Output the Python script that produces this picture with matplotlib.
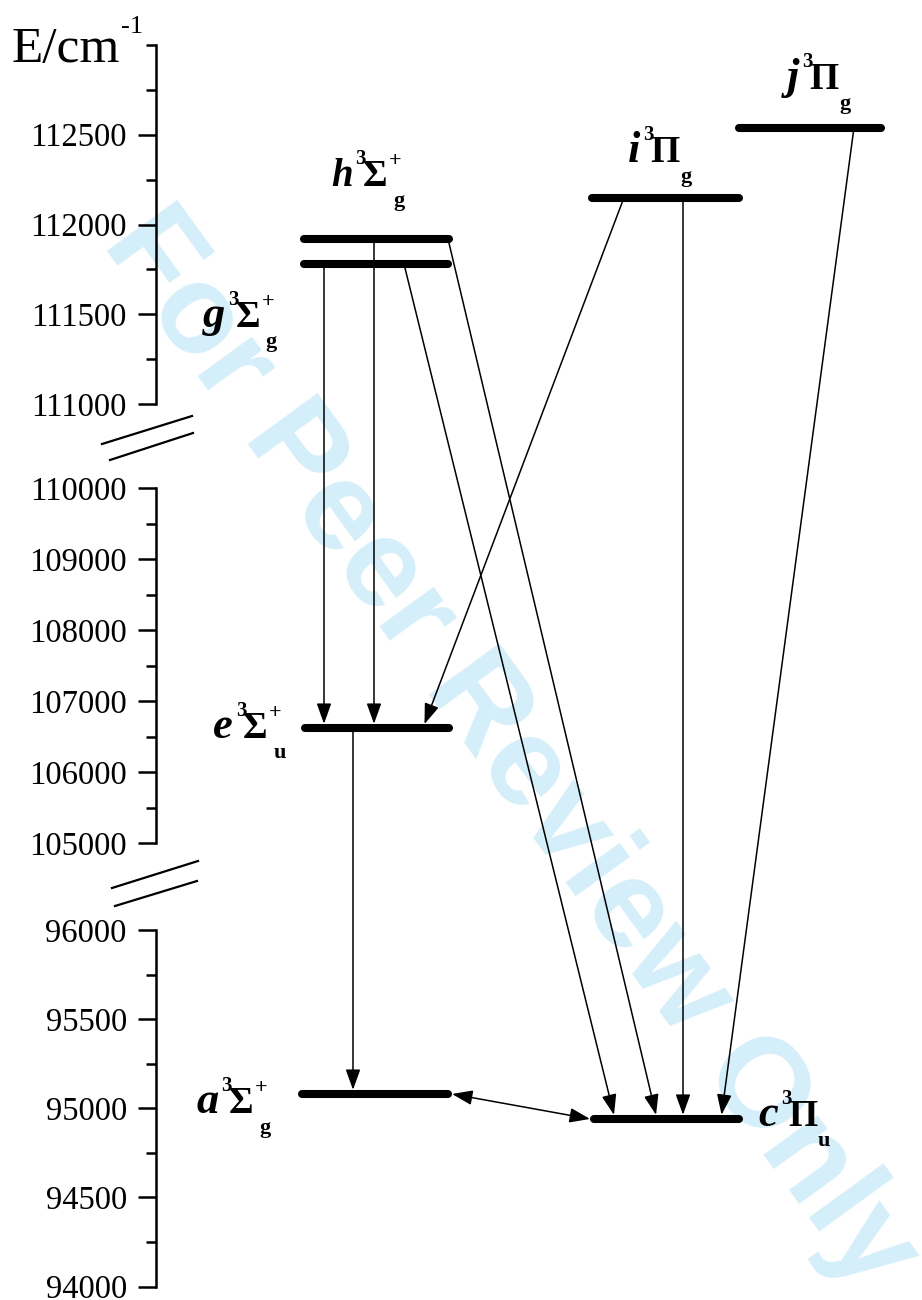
import numpy as np
import matplotlib
matplotlib.use('Agg')
import matplotlib.pyplot as plt
from matplotlib.ticker import FixedLocator, FixedFormatter

plt.rcParams['font.family'] = ['Liberation Serif', 'DejaVu Serif']

# energy levels (cm-1)
states = ['a', 'c', 'e', 'g', 'h', 'i', 'j']
energies = [95080, 94940, 106620, 111780, 111920, 112150, 112540]
terms = ['Σ', 'Π', 'Σ', 'Σ', 'Σ', 'Π', 'Π']
signs = ['+', '', '+', '+', '+', '', '']
parity = ['g', 'u', 'u', 'g', 'g', 'g', 'g']
multiplicity = '3'
# transitions upper -> lower
transitions = [('g', 'e'), ('h', 'e'), ('i', 'e'), ('g', 'c'), ('h', 'c'),
               ('i', 'c'), ('j', 'c'), ('e', 'a')]
coupled = ('a', 'c')

major_ticks = [94000, 94500, 95000, 95500, 96000,
               105000, 106000, 107000, 108000, 109000, 110000,
               111000, 111500, 112000, 112500]
minor_ticks = [94250, 94750, 95250, 95750,
               105500, 106500, 107500, 108500, 109500,
               111250, 111750, 112250, 112750, 113000]
axis_segments = [(94000, 96000), (105000, 110000), (111000, 113000)]

E = dict(zip(states, energies))

# layout (pixels of the 922x1300 picture)
W, H = 922, 1300
brk_E = np.array([94000, 96000, 105000, 110000, 111000, 113000], float)
brk_h = np.array([13.5, 370, 457, 812, 896, 1255], float)

level_x = {'a': (302, 448), 'c': (594, 739), 'e': (305, 449), 'g': (304, 448),
           'h': (304, 449), 'i': (592, 739), 'j': (739, 881)}
# label: left x, baseline shift above the level (px), letter size
label_pos = {'a': (196, -19, 32), 'c': (758, -7, 32), 'e': (213, -10, 32),
             'g': (203, -63, 32), 'h': (331, 53, 28), 'i': (628, 36, 32),
             'j': (787, 39, 32)}
arrow_x = [(324, 324), (374, 374), (624, 423), (404, 615), (448, 657),
           (683, 683), (854, 721), (353, 353)]


def _ext(v, xs, ys):
    v = np.asarray(v, dtype=float)
    s0 = (ys[1] - ys[0]) / (xs[1] - xs[0])
    s1 = (ys[-1] - ys[-2]) / (xs[-1] - xs[-2])
    out = np.interp(v, xs, ys)
    out = np.where(v < xs[0], ys[0] + (v - xs[0]) * s0, out)
    out = np.where(v > xs[-1], ys[-1] + (v - xs[-1]) * s1, out)
    return out


def fwd(v):
    return _ext(v, brk_E, brk_h)


def inv(v):
    return _ext(v, brk_h, brk_E)


fig = plt.figure(figsize=(W / 100, H / 100), dpi=100)
rend = fig.canvas.get_renderer()

# watermark
fig.text(510 / W, 1 - 750 / H, 'For Peer Review Only', family='Liberation Sans',
         weight='bold', fontsize=91, color='#d4eefa', rotation=-54,
         rotation_mode='anchor', ha='center', va='center', zorder=-5)

ax = fig.add_axes([156 / W, brk_h[0] / H, (W - 156) / W, (brk_h[-1] - brk_h[0]) / H])
ax.set_facecolor('none')
ax.set_yscale('function', functions=(fwd, inv))
ax.set_ylim(94000, 113000)
ax.set_xlim(156, W)
for s in ax.spines.values():
    s.set_visible(False)
ax.set_xticks([])

ax.yaxis.set_major_locator(FixedLocator(major_ticks))
ax.yaxis.set_major_formatter(FixedFormatter([str(t) for t in major_ticks]))
ax.yaxis.set_minor_locator(FixedLocator(minor_ticks))
ax.tick_params(axis='y', which='major', direction='out', length=13, width=1.8,
               labelsize=23.5, pad=8)
ax.tick_params(axis='y', which='minor', direction='out', length=7, width=1.8)

for lo, hi in axis_segments:
    ax.plot([156, 156], [lo, hi], color='k', lw=1.8, clip_on=False,
            solid_capstyle='projecting')

# axis break marks
for (x0, y0, x1, y1) in [(102, 444, 192, 416), (110, 460, 193, 433),
                         (112, 888, 198, 861), (115, 906, 197, 881)]:
    fig.add_artist(plt.Line2D([x0 / W, x1 / W], [1 - y0 / H, 1 - y1 / H],
                              color='k', lw=1.6))


def put(txt, x, e, dx, dy, size, style='normal'):
    return ax.annotate(txt, xy=(x, e), xytext=(dx * 0.72, dy * 0.72),
                       textcoords='offset points', fontsize=size,
                       fontweight='bold', fontstyle=style,
                       ha='left', va='baseline')


# levels and their labels
for st, term, sign, par in zip(states, terms, signs, parity):
    x0, x1 = level_x[st]
    ax.plot([x0, x1], [E[st], E[st]], color='k', lw=5.8,
            solid_capstyle='round', zorder=3, clip_on=False)
    lx, dy, size = label_pos[st]
    t = put(st, lx, E[st], 0, dy, size, 'italic')
    wl = t.get_window_extent(rend).width
    put(multiplicity, lx, E[st], wl + 3, dy + 22, 15)
    ts = put(term, lx, E[st], wl + 10, dy, 27)
    xe = wl + 10 + ts.get_window_extent(rend).width
    if sign:
        put(sign, lx, E[st], xe + 2, dy + 20, 16)
        put(par, lx, E[st], xe + 6, dy - 20, 16)
    else:
        put(par, lx, E[st], xe + 1, dy - 20, 16)

# transitions
head = '-|>,head_length=0.5,head_width=0.18'
for (up, lo), (xa, xb) in zip(transitions, arrow_x):
    ax.annotate('', xy=(xb, E[lo]), xytext=(xa, E[up]),
                arrowprops=dict(arrowstyle=head, mutation_scale=25, lw=1.1,
                                color='k', shrinkA=0, shrinkB=3), zorder=2)
ax.annotate('', xy=(590, E[coupled[1]]), xytext=(452, E[coupled[0]]),
            arrowprops=dict(arrowstyle='<|-|>,head_length=0.5,head_width=0.18',
                            mutation_scale=25, lw=1.1, color='k',
                            shrinkA=0, shrinkB=0), zorder=2)

# axis title
fig.text(12 / W, 1 - 62 / H, 'E/cm', fontsize=37, ha='left', va='baseline')
fig.text(121 / W, 1 - 33 / H, '-1', fontsize=19, ha='left', va='baseline')

fig.savefig('out.png', dpi=100)
